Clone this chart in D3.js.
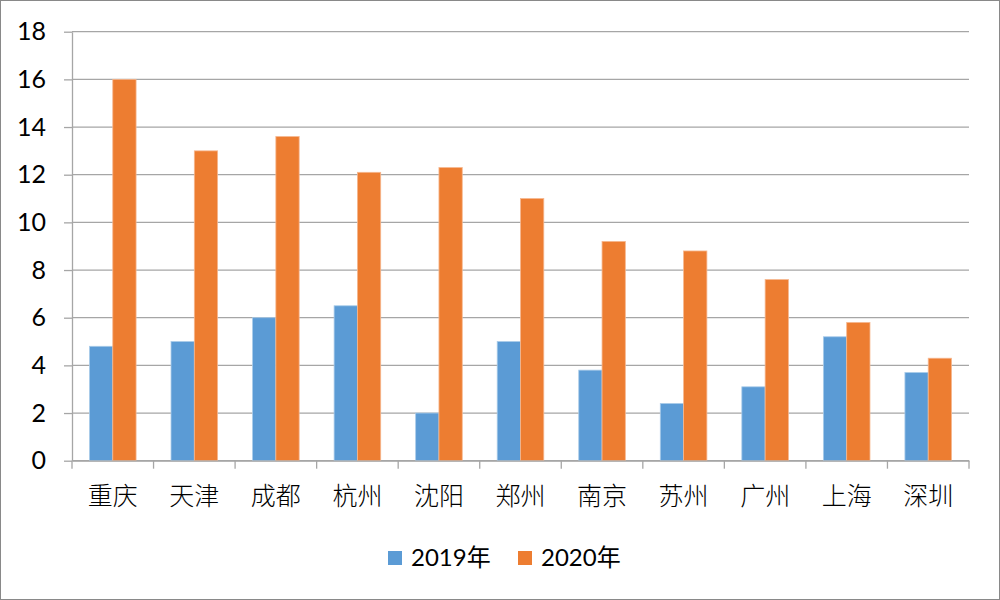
<!DOCTYPE html>
<html>
<head>
<meta charset="utf-8">
<script src="https://cdn.jsdelivr.net/npm/d3@7"></script>
<style>
  body { margin: 0; background: #fff; }
  svg { display: block; }
</style>
</head>
<body>
<script>
// 城市 + 两年数据
var cities = ['重庆','天津','成都','杭州','沈阳','郑州','南京','苏州','广州','上海','深圳'];
var v2019 = [4.8, 5.0, 6.0, 6.5, 2.0, 5.0, 3.8, 2.4, 3.1, 5.2, 3.7];
var v2020 = [16.0, 13.0, 13.6, 12.1, 12.3, 11.0, 9.2, 8.8, 7.6, 5.8, 4.3];
var seriesNames = ['2019年','2020年'];
var yTicks = [0,2,4,6,8,10,12,14,16,18];

var width = 1000, height = 600,
    plotLeft = 72, plotRight = 969, plotTop = 31.7, plotBottom = 460.7;
var colors = ['#5B9BD5','#ED7D31'];
var numFont = 'Lato, "Noto Sans CJK SC", sans-serif';

var svg = d3.select('body').append('svg')
    .attr('width', width).attr('height', height);

// 外框
svg.append('rect').attr('x',0.5).attr('y',0.5)
   .attr('width',width-1).attr('height',height-1)
   .attr('fill','#fff').attr('stroke','#898989');

var x = d3.scaleBand().domain(cities).range([plotLeft, plotRight]).padding(0);
var xs = d3.scaleBand().domain(seriesNames).range([0, x.bandwidth()])
    .paddingInner(0).paddingOuter(0.75);
var y = d3.scaleLinear().domain([0,18]).range([plotBottom, plotTop]);

// 网格线
svg.append('g').selectAll('line').data(yTicks).join('line')
   .attr('x1', plotLeft).attr('x2', plotRight)
   .attr('y1', function(d){return y(d);}).attr('y2', function(d){return y(d);})
   .attr('stroke','#a6a6a6').attr('stroke-width',1.3);

// 柱子
var table = cities.map(function(c,i){ return {city:c, vals:[v2019[i], v2020[i]]}; });
var groups = svg.append('g').selectAll('g').data(table).join('g')
   .attr('transform', function(d){return 'translate('+x(d.city)+',0)';});
groups.selectAll('rect').data(function(d){
      return d.vals.map(function(v,k){return {name:seriesNames[k], v:v, k:k};});
   }).join('rect')
   .attr('x', function(d){return xs(d.name);})
   .attr('width', xs.bandwidth())
   .attr('y', function(d){return y(d.v);})
   .attr('height', function(d){return y(0)-y(d.v);})
   .attr('fill', function(d){return colors[d.k];})
   .attr('stroke', function(d){return d.k ? '#f6b78f' : '#a9cbe9';})
   .attr('stroke-width', 0.8);

// y轴
var yAxis = svg.append('g').attr('transform','translate('+plotLeft+',0)')
   .call(d3.axisLeft(y).tickValues(yTicks).tickSize(8).tickPadding(18).tickSizeOuter(0));
yAxis.selectAll('path,line').attr('stroke','#a6a6a6').attr('stroke-width',1.3);
yAxis.selectAll('text').attr('font-family',numFont).attr('font-size',25).attr('fill','#000');

// x轴
var xAxis = svg.append('g').attr('transform','translate(0,'+plotBottom+')')
   .call(d3.axisBottom(x).tickSize(0).tickPadding(27).tickSizeOuter(0));
xAxis.select('.domain').attr('stroke','#a6a6a6').attr('stroke-width',1.3);
xAxis.selectAll('text').attr('font-family','"Noto Sans CJK SC", sans-serif')
   .attr('font-size',25).attr('font-weight',300).attr('fill','#000');
// 类别间的刻度
var edges = cities.map(function(c){return x(c);}).concat([plotRight]);
xAxis.append('g').selectAll('line').data(edges).join('line')
   .attr('x1', function(d){return d;}).attr('x2', function(d){return d;})
   .attr('y1',0).attr('y2',8)
   .attr('stroke','#a6a6a6').attr('stroke-width',1.3);

// 图例
var legendX = [388, 518];
var legend = svg.append('g').selectAll('g').data(seriesNames).join('g')
   .attr('transform', function(d,i){return 'translate('+legendX[i]+',551)';});
legend.append('rect').attr('width',14).attr('height',14)
   .attr('fill', function(d,i){return colors[i];});
legend.append('text').attr('x',23).attr('y',15)
   .attr('font-family',numFont).attr('font-size',24).attr('fill','#000')
   .text(function(d){return d;});
</script>
</body>
</html>
